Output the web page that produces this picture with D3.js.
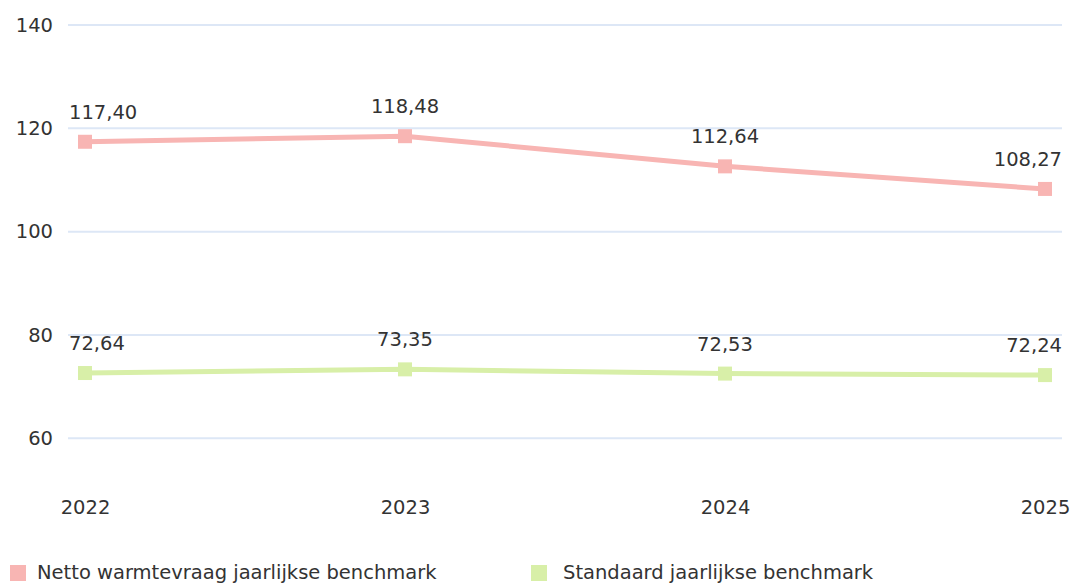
<!DOCTYPE html>
<html><head><meta charset="utf-8">
<script src="https://cdn.jsdelivr.net/npm/d3@7"></script>
<style>body{margin:0;background:#fff;} svg{display:block;font-family:"DejaVu Sans",Verdana,sans-serif;}</style>
</head><body>
<svg id="c" width="1072" height="584"></svg>
<script>
const years = ["2022","2023","2024","2025"];
const netto = [117.40, 118.48, 112.64, 108.27];
const standaard = [72.64, 73.35, 72.53, 72.24];
const yTicks = [60, 80, 100, 120, 140];
const seriesNames = ["Netto warmtevraag jaarlijkse benchmark", "Standaard jaarlijkse benchmark"];
const colors = ["#f8b5b3", "#d8efa8"];

const svg = d3.select("#c");
const left = 68, right = 1062;
const x = d3.scalePoint().domain(years).range([85, 1045]);
const y = d3.scaleLinear().domain([50, 140]).range([490, 25]);
const fs = 19.5;
const ff = "'DejaVu Sans', Verdana, sans-serif";
const txt = "#333";
const fmt = v => d3.format(".2f")(v).replace(".", ",");

// grid
svg.append("g").selectAll("line").data(yTicks).join("line")
  .attr("x1", left).attr("x2", right)
  .attr("y1", d => y(d)).attr("y2", d => y(d))
  .attr("stroke", "#dde7f6").attr("stroke-width", 2);

// y axis labels
const yAxis = d3.axisLeft(y).tickValues(yTicks).tickSize(0).tickPadding(0);
const ya = svg.append("g").attr("transform", `translate(53,0)`).call(yAxis)
  .attr("font-family", ff).attr("font-size", fs);
ya.select(".domain").remove();
ya.selectAll("text").attr("fill", txt);

// x axis labels
const xAxis = d3.axisBottom(x).tickSize(0).tickPadding(0);
const xa = svg.append("g").attr("transform", `translate(0,500)`).call(xAxis)
  .attr("font-family", ff).attr("font-size", fs);
xa.select(".domain").remove();
xa.selectAll("text").attr("fill", txt);

const series = [netto, standaard];
const line = d3.line().x((d, i) => x(years[i])).y(d => y(d));
series.forEach((data, s) => {
  const g = svg.append("g");
  g.append("path").datum(data).attr("d", line)
    .attr("fill", "none").attr("stroke", colors[s]).attr("stroke-width", 5);
  g.selectAll("rect").data(data).join("rect")
    .attr("x", (d, i) => x(years[i]) - 7).attr("y", d => y(d) - 7)
    .attr("width", 14).attr("height", 14).attr("fill", colors[s]);
  g.selectAll("text").data(data).join("text")
    .attr("font-size", fs).attr("fill", txt)
    .attr("y", d => y(d) - 23)
    .text(d => fmt(d))
    .each(function(d, i) {
      const w = this.getComputedTextLength();
      let lx = x(years[i]) - w / 2;
      lx = Math.max(left + 1, Math.min(right - w, lx));
      d3.select(this).attr("x", lx);
    });
});

// legend
const legX = [10, 531];
seriesNames.forEach((n, i) => {
  svg.append("rect").attr("x", legX[i]).attr("y", 565).attr("width", 16).attr("height", 16).attr("fill", colors[i]);
  svg.append("text").attr("x", legX[i] + (i ? 32 : 27)).attr("y", 578.5).attr("font-size", fs).attr("fill", txt).text(n);
});
</script>
</body></html>
